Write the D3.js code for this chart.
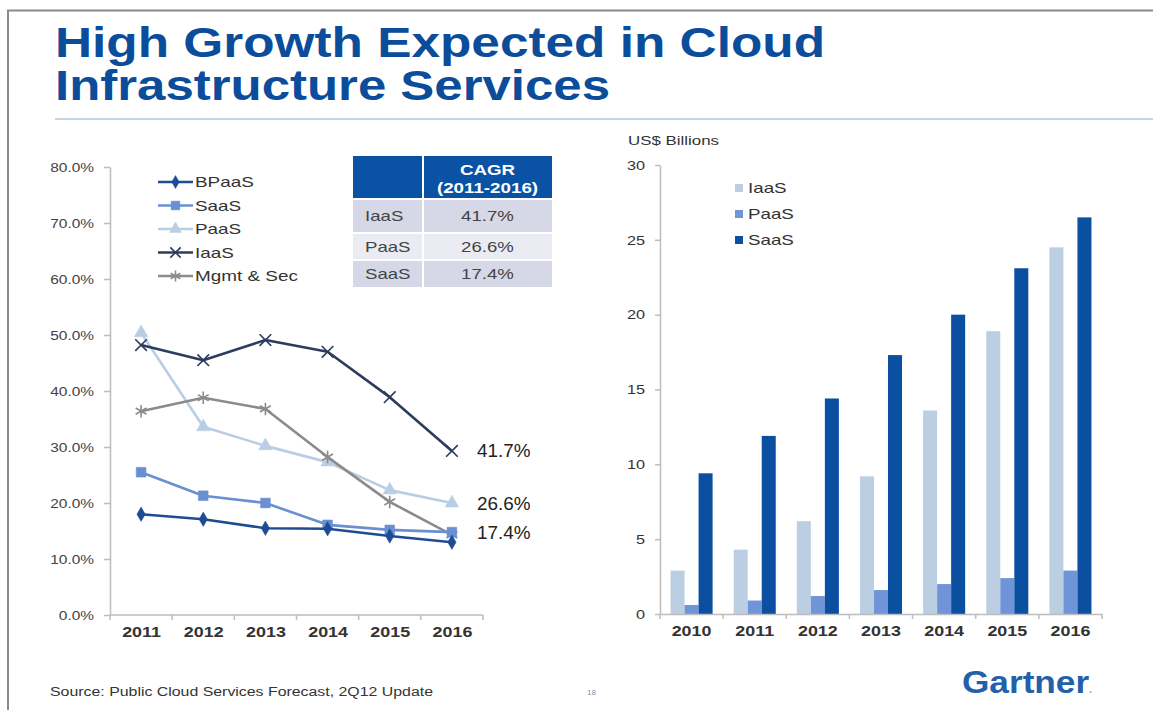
<!DOCTYPE html>
<html><head><meta charset="utf-8">
<script src="https://cdn.jsdelivr.net/npm/d3@7"></script>
<style>
html,body{margin:0;padding:0;background:#fff;}
svg{display:block;font-family:"Liberation Sans",Arial,sans-serif;}
</style></head>
<body>
<svg id="c" width="1153" height="710"></svg>
<script>
// ---------- data ----------
const titleLines = ["High Growth Expected in Cloud", "Infrastructure Services"];
const lineYears = ["2011","2012","2013","2014","2015","2016"];
const seriesNames = ["BPaaS","SaaS","PaaS","IaaS","Mgmt & Sec"];
const bpaasGrowth = [18.0,17.1,15.5,15.4,14.1,13.0];
const saasGrowth  = [25.5,21.3,20.0,16.1,15.2,14.8];
const paasGrowth  = [50.4,33.6,30.2,27.3,22.3,20.0];
const iaasGrowth  = [48.2,45.5,49.1,47.0,38.9,29.3];
const mgmtGrowth  = [36.4,38.8,36.8,28.2,20.2,14.3];
const growthTicks = [0,10,20,30,40,50,60,70,80];
const endLabels = [{series:"IaaS",text:"41.7%"},{series:"PaaS",text:"26.6%"},{series:"SaaS",text:"17.4%"}];
const cagrHeader = ["CAGR","(2011-2016)"];
const cagrNames = ["IaaS","PaaS","SaaS"];
const cagrValues = ["41.7%","26.6%","17.4%"];
const barYears = ["2010","2011","2012","2013","2014","2015","2016"];
const barSeries = ["IaaS","PaaS","SaaS"];
const iaasRevenue = [2.9,4.3,6.2,9.2,13.6,18.9,24.5];
const paasRevenue = [0.6,0.9,1.2,1.6,2.0,2.4,2.9];
const saasRevenue = [9.4,11.9,14.4,17.3,20.0,23.1,26.5];
const revenueTicks = [0,5,10,15,20,25,30];
const unitLabel = "US$ Billions";
const sourceText = "Source: Public Cloud Services Forecast, 2Q12 Update";
const pageNumber = "18";
const brand = "Gartner";

// ---------- styles ----------
const FONT = '"Liberation Sans",Arial,sans-serif';
const lineColors = {"BPaaS":"#1d4c95","SaaS":"#6a8fd2","PaaS":"#b9cee4","IaaS":"#2b3c5d","Mgmt & Sec":"#8b8b8b"};
const lineSymbols = {"BPaaS":"diamond","SaaS":"square","PaaS":"triangle","IaaS":"times","Mgmt & Sec":"asterisk"};
const barColors = {"IaaS":"#bccfe2","PaaS":"#6f94d7","SaaS":"#0a4fa0"};
const axisColor = "#bdbdbd";

const svg = d3.select("#c");

function T(g, x, y, str, o){
  o = o || {};
  const t = g.append("text")
    .attr("transform", `translate(${x},${y}) scale(${o.sx||1},1)`)
    .attr("text-anchor", o.anchor||"start")
    .attr("font-size", o.size||14)
    .attr("font-weight", o.weight||"normal")
    .attr("fill", o.fill||"#222")
    .attr("font-family", FONT)
    .text(str);
  if (o.baseline) t.attr("dominant-baseline", o.baseline);
  if (o.len) t.attr("textLength", o.len).attr("lengthAdjust","spacingAndGlyphs");
  return t;
}

// ---------- frame, title ----------
svg.append("path").attr("d","M8,710 L8,10.5 L1153,10.5").attr("fill","none").attr("stroke","#8a8a8a").attr("stroke-width",2);
T(svg, 55, 57, titleLines[0], {size:42, weight:"bold", fill:"#0b4d9b", len:770});
T(svg, 55, 100, titleLines[1], {size:42, weight:"bold", fill:"#0b4d9b", len:555});
svg.append("line").attr("x1",55).attr("x2",1153).attr("y1",119).attr("y2",119).attr("stroke","#c9d5e4").attr("stroke-width",2);

// ---------- left line chart ----------
const L = svg.append("g");
const xL = d3.scalePoint().domain(lineYears).range([110,483]).padding(0.5);
const yL = d3.scaleLinear().domain([0,80]).range([615,167]);
const growthBy = {"BPaaS":bpaasGrowth,"SaaS":saasGrowth,"PaaS":paasGrowth,"IaaS":iaasGrowth,"Mgmt & Sec":mgmtGrowth};

const yAxL = L.append("g").attr("transform","translate(110,0)")
  .call(d3.axisLeft(yL).tickValues(growthTicks).tickFormat(d=>d.toFixed(1)+"%").tickSize(6).tickSizeOuter(0));
yAxL.select(".domain").attr("stroke",axisColor).attr("stroke-width",1.5);
yAxL.selectAll(".tick line").attr("stroke",axisColor).attr("stroke-width",1.5);
yAxL.selectAll(".tick text").attr("x",-16/1.19).attr("transform","scale(1.19,1)")
  .attr("font-size",13).attr("font-family",FONT).attr("fill","#444");

const xAxL = L.append("g").attr("transform","translate(0,615)")
  .call(d3.axisBottom(xL).tickSize(0).tickPadding(12).tickSizeOuter(0));
xAxL.select(".domain").attr("stroke",axisColor).attr("stroke-width",1.5).attr("d","M110,0H483");
xAxL.selectAll(".tick text").attr("transform","scale(1.28,1)").attr("font-size",14)
  .attr("font-weight","bold").attr("font-family",FONT).attr("fill","#333");
d3.range(lineYears.length+1).forEach(i=>{
  const x = xL.range()[0] + i*xL.step();
  L.append("line").attr("x1",x).attr("x2",x).attr("y1",615).attr("y2",620).attr("stroke",axisColor).attr("stroke-width",1.5);
});

function symbolPath(kind, size){
  const m = {diamond:d3.symbolDiamond, square:d3.symbolSquare, triangle:d3.symbolTriangle, times:d3.symbolTimes, asterisk:d3.symbolAsterisk};
  return d3.symbol().type(m[kind]).size(size)();
}
function drawMarker(g, name, x, y, scale){
  const kind = lineSymbols[name], c = lineColors[name];
  const sizes = {diamond:60, square:95, triangle:80, times:90, asterisk:110};
  const p = g.append("path").attr("d", symbolPath(kind, sizes[kind]*(scale||1)))
    .attr("transform",`translate(${x},${y})`);
  if (kind==="times"||kind==="asterisk") p.attr("fill","none").attr("stroke",c).attr("stroke-width",1.6);
  else p.attr("fill",c).attr("stroke",c).attr("stroke-width",0.5);
}
const lineGen = d3.line().x((d,i)=>xL(lineYears[i])).y(d=>yL(d));
const drawOrder = ["PaaS","Mgmt & Sec","IaaS","SaaS","BPaaS"];
drawOrder.forEach(name=>{
  const vals = growthBy[name];
  L.append("path").attr("d", lineGen(vals)).attr("fill","none")
    .attr("stroke", lineColors[name]).attr("stroke-width", 2.6).attr("stroke-linejoin","round");
  vals.forEach((v,i)=> drawMarker(L, name, xL(lineYears[i]), yL(v)));
});
endLabels.forEach(e=>{
  const vals = growthBy[e.series];
  T(L, 477, yL(vals[vals.length-1]) + 6.5, e.text, {size:18, sx:1.05, fill:"#222"});
});

// left legend
seriesNames.forEach((name,i)=>{
  const y = 182 + i*23.5;
  L.append("line").attr("x1",158).attr("x2",193).attr("y1",y).attr("y2",y)
    .attr("stroke",lineColors[name]).attr("stroke-width",2.4);
  drawMarker(L, name, 175.5, y, 0.8);
  T(L, 195, y+5, name, {size:14, sx:1.35, fill:"#333"});
});

// CAGR table
const tb = svg.append("g");
const tX0 = 353, tX1 = 423, tX2 = 552;
tb.append("rect").attr("x",tX0).attr("y",156).attr("width",tX2-tX0).attr("height",43).attr("fill","#0a52a3");
const rowY = [199,233,260,287];
const rowFill = ["#d6d8e7","#eaebf3","#d6d8e7"];
cagrNames.forEach((n,i)=>{
  tb.append("rect").attr("x",tX0).attr("y",rowY[i]).attr("width",tX2-tX0).attr("height",rowY[i+1]-rowY[i]).attr("fill",rowFill[i]);
  const cy = (rowY[i]+rowY[i+1])/2;
  T(tb, 365, cy+5, n, {size:14, sx:1.33, fill:"#444"});
  T(tb, (tX1+tX2)/2, cy+5, cagrValues[i], {size:14, sx:1.33, fill:"#444", anchor:"middle"});
  tb.append("line").attr("x1",tX0).attr("x2",tX2).attr("y1",rowY[i]).attr("y2",rowY[i]).attr("stroke","#fff").attr("stroke-width",2);
});
tb.append("line").attr("x1",tX1).attr("x2",tX1).attr("y1",156).attr("y2",287).attr("stroke","#fff").attr("stroke-width",2);
T(tb, (tX1+tX2)/2, 175, cagrHeader[0], {size:14, sx:1.34, weight:"bold", fill:"#fff", anchor:"middle"});
T(tb, (tX1+tX2)/2, 193, cagrHeader[1], {size:14, sx:1.34, weight:"bold", fill:"#fff", anchor:"middle"});

// ---------- right bar chart ----------
const R = svg.append("g");
const x0 = d3.scaleBand().domain(barYears).range([660,1102]).paddingInner(0.334).paddingOuter(0.167);
const x1 = d3.scaleBand().domain(barSeries).range([0,x0.bandwidth()]).padding(0);
const yR = d3.scaleLinear().domain([0,30]).range([614,165]);
const revBy = {"IaaS":iaasRevenue,"PaaS":paasRevenue,"SaaS":saasRevenue};

const yAxR = R.append("g").attr("transform","translate(660,0)")
  .call(d3.axisLeft(yR).tickValues(revenueTicks).tickFormat(d3.format("d")).tickSize(5).tickSizeOuter(0));
yAxR.select(".domain").attr("stroke",axisColor).attr("stroke-width",1.5);
yAxR.selectAll(".tick line").attr("stroke",axisColor).attr("stroke-width",1.5);
yAxR.selectAll(".tick text").attr("x",-15/1.25).attr("transform","scale(1.25,1)")
  .attr("font-size",13).attr("font-family",FONT).attr("fill","#333");

barYears.forEach((yr,i)=>{
  barSeries.forEach(s=>{
    const v = revBy[s][i];
    R.append("rect").attr("x", x0(yr)+x1(s)).attr("width", x1.bandwidth())
      .attr("y", yR(v)).attr("height", yR(0)-yR(v)).attr("fill", barColors[s]);
  });
});

const xAxR = R.append("g").attr("transform","translate(0,614)")
  .call(d3.axisBottom(x0).tickSize(0).tickPadding(12).tickSizeOuter(0));
xAxR.select(".domain").attr("stroke",axisColor).attr("stroke-width",1.5);
xAxR.selectAll(".tick text").attr("transform","scale(1.28,1)").attr("font-size",14)
  .attr("font-weight","bold").attr("font-family",FONT).attr("fill","#333");
d3.range(barYears.length+1).forEach(i=>{
  const x = x0.range()[0] + i*x0.step();
  R.append("line").attr("x1",x).attr("x2",x).attr("y1",614).attr("y2",619).attr("stroke",axisColor).attr("stroke-width",1.5);
});

T(R, 628, 145, unitLabel, {size:13, sx:1.3, fill:"#333"});

barSeries.forEach((s,i)=>{
  const y = 188 + i*26;
  R.append("rect").attr("x",735).attr("y",y-4).attr("width",8).attr("height",8).attr("fill",barColors[s]);
  T(R, 748, y+5, s, {size:14, sx:1.34, fill:"#333"});
});

// ---------- footer ----------
T(svg, 50, 696, sourceText, {size:12, fill:"#333", len:383});
T(svg, 587, 695, pageNumber, {size:8, fill:"#7b95b8"});
const gt = T(svg, 962, 693, brand, {size:32, weight:"bold", fill:"#2261a9", sx:1.1});
gt.append("tspan").attr("font-size",10).attr("fill","#8aa3c4").text(".");
</script>
</body></html>
